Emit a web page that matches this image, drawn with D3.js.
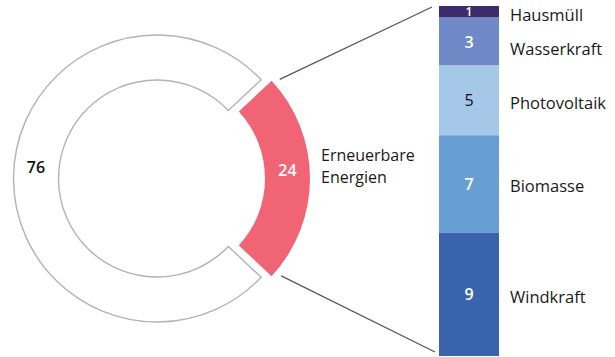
<!DOCTYPE html>
<html lang="de">
<head>
<meta charset="UTF-8">
<title>Erneuerbare Energien</title>
<script src="https://d3js.org/d3.v7.min.js"></script>
<style>
  body { margin: 0; background: #fff; }
  svg { display: block; font-family: "Open Sans", sans-serif; }
</style>
</head>
<body>
<svg id="chart" width="615" height="357"></svg>
<script>
// share of the whole: renewables vs. rest
const shareNames = ["Erneuerbare Energien", "Sonstige"];
const shareValues = [24, 76];
const shareLabels = ["24", "76"];

// breakdown of the renewables, top to bottom
const renewNames = ["Hausmüll", "Wasserkraft", "Photovoltaik", "Biomasse", "Windkraft"];
const renewValues = [0.8, 3.3, 4.8, 6.7, 8.5];
const renewLabels = ["1", "3", "5", "7", "9"];
const renewColors = ["#3d2c6b", "#6f89c6", "#a5c7e8", "#679fd4", "#3963ad"];

const svg = d3.select("#chart");
const cx = 157, cy = 178.5, rOut = 143.5, rIn = 98.5;
const explode = 9.5; // pink segment pulled out to the right

// donut
const share = shareValues[0] / d3.sum(shareValues);
const a0 = Math.PI / 2 - share * Math.PI;
const pie = d3.pie().sort(null).startAngle(a0).endAngle(a0 + 2 * Math.PI);
const arcs = pie(shareValues);
const arc = d3.arc().innerRadius(rIn).outerRadius(rOut).padAngle(0.008);

const g = svg.append("g").attr("transform", `translate(${cx},${cy})`);
g.selectAll("path")
  .data(arcs)
  .enter().append("path")
  .attr("transform", (d, i) => i === 0 ? `translate(${explode},0)` : null)
  .attr("d", arc)
  .attr("fill", (d, i) => i === 0 ? "#f06475" : "#fff")
  .attr("stroke", (d, i) => i === 0 ? "none" : "#b3b3b3")
  .attr("stroke-width", 1.4);

g.selectAll("text.val")
  .data(arcs)
  .enter().append("text")
  .attr("class", "val")
  .attr("x", d => arc.centroid(d)[0] + (d.index === 0 ? explode : 0))
  .attr("y", d => arc.centroid(d)[1] + (d.index === 0 ? -8.5 : -12))
  .attr("text-anchor", "middle")
  .attr("dominant-baseline", "central")
  .attr("font-size", 16)
  .attr("font-weight", 600)
  .attr("fill", (d, i) => i === 0 ? "#fff" : "#111")
  .text((d, i) => shareLabels[i]);

// label next to pink segment
const nameLines = ["Erneuerbare", "Energien"];
const nameX = cx + explode + rOut + 11;
svg.append("text")
  .attr("y", cy - 17.5)
  .attr("font-size", 16)
  .attr("fill", "#1a1a1a")
  .selectAll("tspan")
  .data(nameLines)
  .enter().append("tspan")
  .attr("x", nameX)
  .attr("dy", (d, i) => i === 0 ? 0 : 21.7)
  .text(d => d);

// stacked bar
const barX = 439, barW = 60;
const total = d3.sum(renewValues);
const y = d3.scaleLinear().domain([0, total]).range([6, 356]);
const stacked = [];
let acc = 0;
renewValues.forEach((v, i) => {
  stacked.push({ name: renewNames[i], label: renewLabels[i], y0: acc, y1: acc + v, color: renewColors[i] });
  acc += v;
});

svg.selectAll("rect.seg")
  .data(stacked)
  .enter().append("rect")
  .attr("class", "seg")
  .attr("x", barX)
  .attr("width", barW)
  .attr("y", d => y(d.y0))
  .attr("height", d => y(d.y1) - y(d.y0))
  .attr("fill", d => d.color);

svg.selectAll("text.num")
  .data(stacked)
  .enter().append("text")
  .attr("class", "num")
  .attr("x", barX + barW / 2)
  .attr("y", d => (y(d.y0) + y(d.y1)) / 2)
  .attr("text-anchor", "middle")
  .attr("dominant-baseline", "central")
  .attr("font-size", d => d.y1 - d.y0 < 1.5 ? 12 : 16)
  .attr("font-weight", (d, i) => i === 2 ? 400 : 600)
  .attr("fill", (d, i) => i === 2 ? "#111" : "#fff")
  .text(d => d.label);

// category labels, pushed apart where segments are small
let prev = -Infinity;
const labelY = stacked.map(d => {
  let c = Math.max((y(d.y0) + y(d.y1)) / 2 + 2, 14);
  c = Math.max(c, prev + 34);
  prev = c;
  return c;
});
svg.selectAll("text.cat")
  .data(stacked)
  .enter().append("text")
  .attr("class", "cat")
  .attr("x", barX + barW + 11)
  .attr("y", (d, i) => labelY[i])
  .attr("dominant-baseline", "central")
  .attr("font-size", 16.5)
  .attr("fill", "#1a1a1a")
  .text(d => d.name);

// leader lines from pink segment to bar ends
const pink = arcs[0];
const rl = rOut + 7;
const lines = [
  { a: pink.startAngle + 0.035, by: y(0) + 1, bx: barX - 7 },
  { a: pink.endAngle - 0.05, by: y(total) - 4, bx: barX - 4 }
];
svg.selectAll("line.lead")
  .data(lines)
  .enter().append("line")
  .attr("class", "lead")
  .attr("x1", d => cx + explode + rl * Math.sin(d.a))
  .attr("y1", d => cy - rl * Math.cos(d.a))
  .attr("x2", d => d.bx)
  .attr("y2", d => d.by)
  .attr("stroke", "#555")
  .attr("stroke-width", 1.2);
</script>
</body>
</html>
